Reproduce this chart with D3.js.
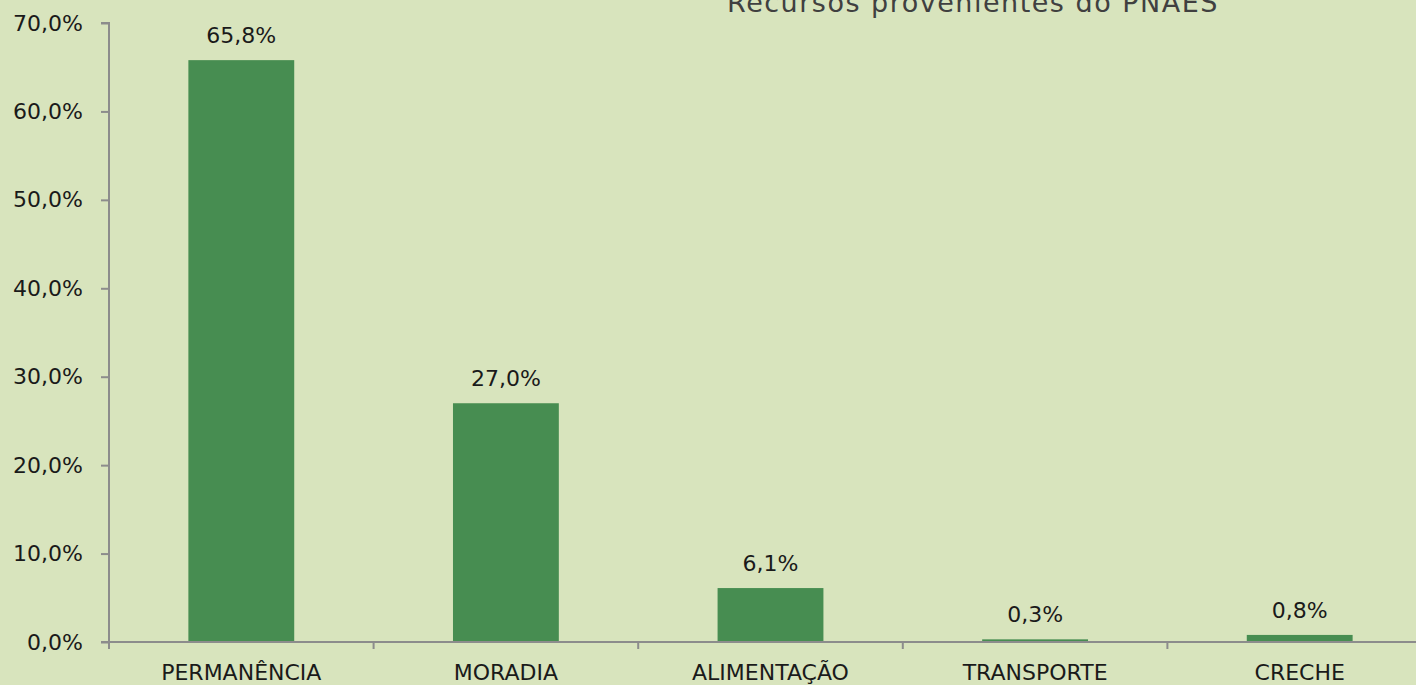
<!DOCTYPE html>
<html><head><meta charset="utf-8">
<script src="https://cdn.jsdelivr.net/npm/d3@7"></script>
<style>html,body{margin:0;padding:0;background:#d8e4bd;overflow:hidden}</style>
</head><body>
<svg id="c" width="1416" height="685"></svg>
<script>
const categories = ["PERMANÊNCIA","MORADIA","ALIMENTAÇÃO","TRANSPORTE","CRECHE"];
const values = [65.8, 27.0, 6.1, 0.3, 0.8];
const valueLabels = ["65,8%","27,0%","6,1%","0,3%","0,8%"];
const yTicks = [0,10,20,30,40,50,60,70];
const title = "Recursos provenientes do PNAES";

(function(){
const svg = d3.select("#c");
const W = 1416, H = 685;
const pLeft = 109, pTop = 23, pBottom = 642, pRight = 1432;
const font = "DejaVu Sans";
svg.append("rect").attr("width",W).attr("height",H).attr("fill","#d8e4bd");

const x = d3.scaleBand().domain(categories).range([pLeft,pRight]).padding(0);
const y = d3.scaleLinear().domain([0,70]).range([pBottom,pTop]);
const axisColor = "#8c8c8c";

const bw = x.bandwidth()*0.4;
svg.selectAll("rect.bar").data(categories).join("rect")
  .attr("class","bar")
  .attr("x",(d)=>x(d)+x.bandwidth()/2-bw/2)
  .attr("y",(d,i)=>y(values[i]))
  .attr("width",bw)
  .attr("height",(d,i)=>pBottom-y(values[i]))
  .attr("fill","#478d51");

svg.selectAll("text.vl").data(categories).join("text")
  .attr("class","vl")
  .attr("x",(d)=>x(d)+x.bandwidth()/2)
  .attr("y",(d,i)=>y(values[i])-17)
  .attr("text-anchor","middle")
  .attr("font-family",font).attr("font-size",22).attr("fill","#1a1a1a")
  .text((d,i)=>valueLabels[i]);

const ya = svg.append("g").attr("transform",`translate(${pLeft},0)`)
  .call(d3.axisLeft(y).tickValues(yTicks).tickSize(8).tickPadding(18)
    .tickFormat(d=>d.toFixed(1).replace(".",",")+"%"));
ya.select(".domain").attr("stroke",axisColor).attr("stroke-width",2).attr("d",`M-8,${pTop}H0V${pBottom}`);
ya.selectAll(".tick line").attr("stroke",axisColor).attr("stroke-width",2);
ya.selectAll(".tick text").attr("font-family",font).attr("font-size",22).attr("fill","#1a1a1a");

const boundaries = categories.map(c=>x(c)).concat([pRight]);
svg.append("line").attr("x1",pLeft-8).attr("x2",pRight).attr("y1",pBottom).attr("y2",pBottom)
  .attr("stroke",axisColor).attr("stroke-width",2);
svg.selectAll("line.xt").data(boundaries).join("line")
  .attr("class","xt")
  .attr("x1",d=>d).attr("x2",d=>d).attr("y1",pBottom).attr("y2",pBottom+7)
  .attr("stroke",axisColor).attr("stroke-width",2);
svg.selectAll("text.xl").data(categories).join("text")
  .attr("class","xl")
  .attr("x",d=>x(d)+x.bandwidth()/2).attr("y",680)
  .attr("text-anchor","middle")
  .attr("font-family",font).attr("font-size",22).attr("fill","#1a1a1a")
  .text(d=>d);

svg.append("text").attr("x",973).attr("y",12).attr("text-anchor","middle")
  .attr("font-family",font).attr("font-size",27).attr("letter-spacing",1.5)
  .attr("fill","#404040").text(title);
})();
</script>
</body></html>
